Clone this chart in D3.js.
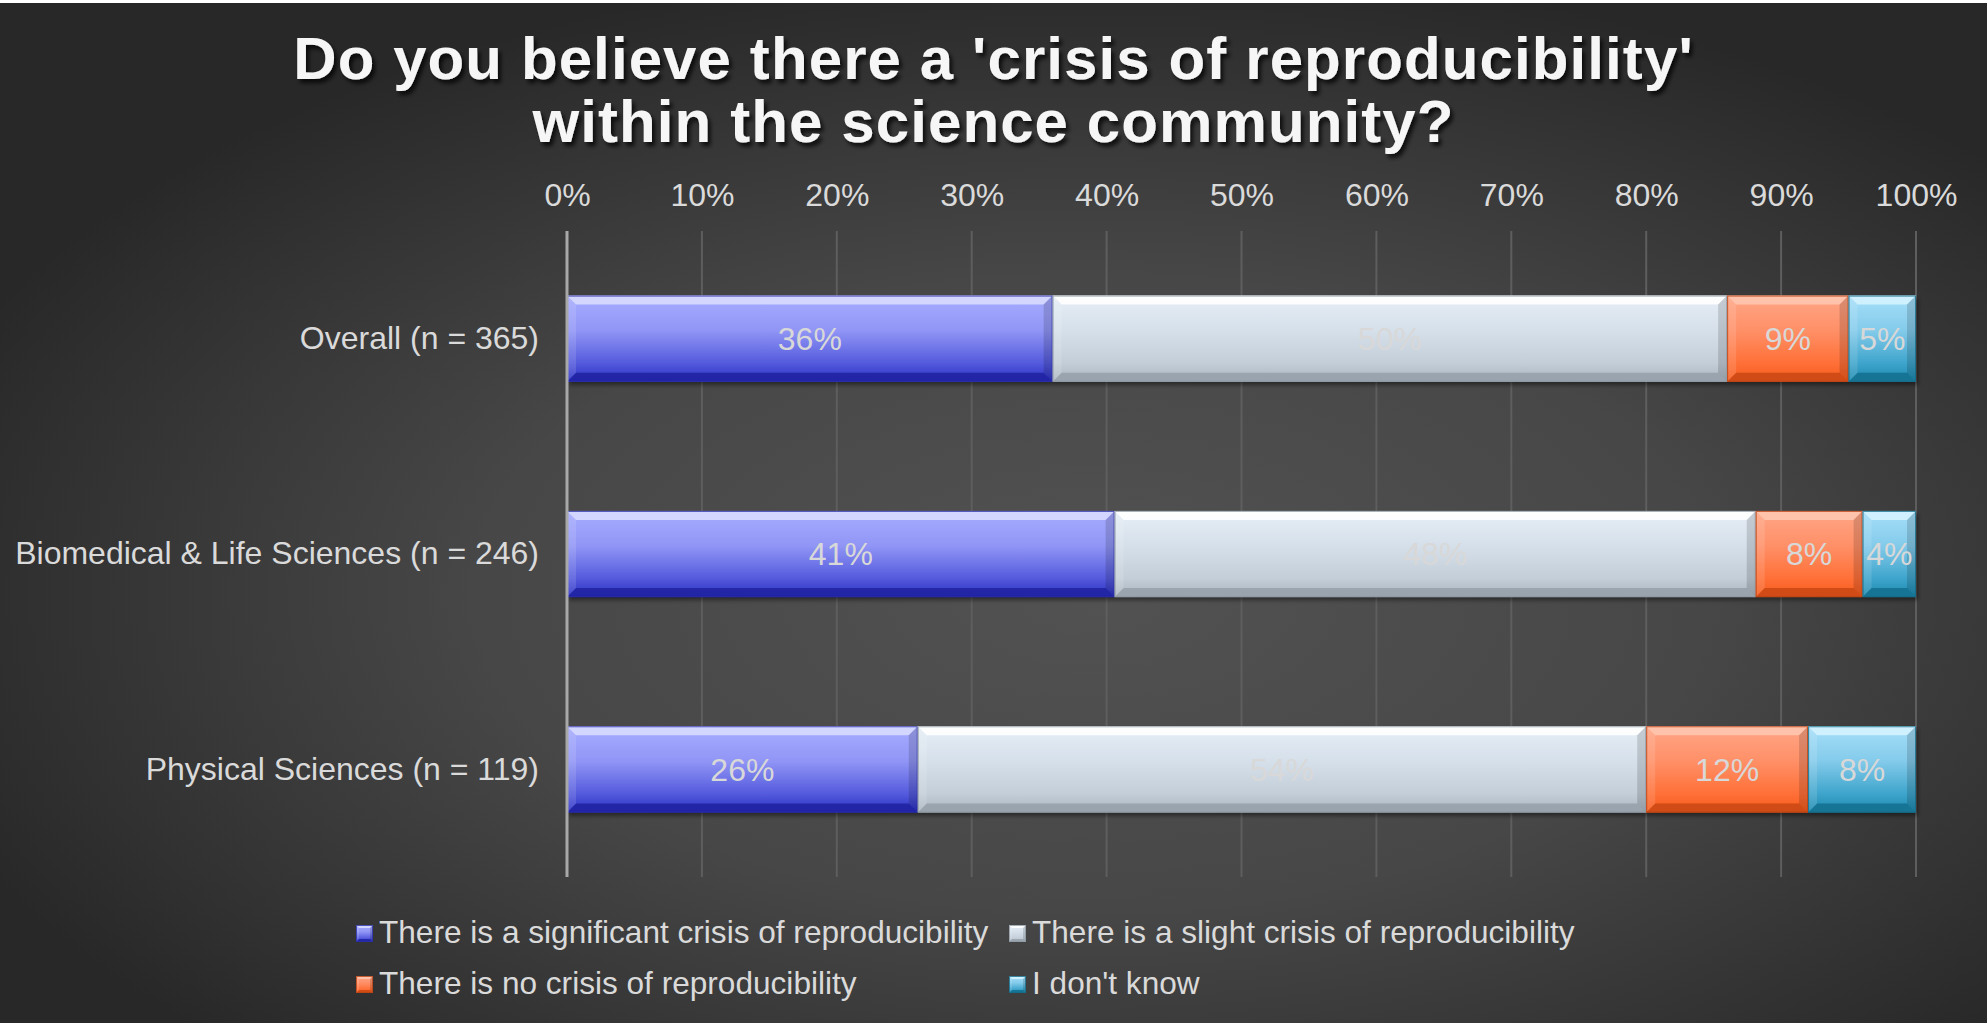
<!DOCTYPE html>
<html>
<head>
<meta charset="utf-8">
<script src="https://cdn.jsdelivr.net/npm/d3@7"></script>
<style>
  body { margin: 0; background: #2a2a2a; overflow: hidden; }
  svg { display: block; }
  text { font-family: "Liberation Sans", Arial, sans-serif; }
</style>
</head>
<body>
<script>
// Survey responses, percent of respondents per group
const categories = ["Overall (n = 365)", "Biomedical & Life Sciences (n = 246)", "Physical Sciences (n = 119)"];
const seriesNames = [
  "There is a significant crisis of reproducibility",
  "There is a slight crisis of reproducibility",
  "There is no crisis of reproducibility",
  "I don't know"
];
const significant = [36, 41, 26];
const slight = [50, 48, 54];
const noCrisis = [9, 8, 12];
const dontKnow = [5, 4, 8];
const tickValues = [0, 0.1, 0.2, 0.3, 0.4, 0.5, 0.6, 0.7, 0.8, 0.9, 1];
const titleLines = ["Do you believe there a 'crisis of reproducibility'", "within the science community?"];

const W = 1987, H = 1023;
const FONT = 32;
const keys = ["significant", "slight", "noCrisis", "dontKnow"];
const rows = categories.map((c, i) => ({
  category: c,
  significant: significant[i],
  slight: slight[i],
  noCrisis: noCrisis[i],
  dontKnow: dontKnow[i]
}));
const stacked = d3.stack().keys(keys).offset(d3.stackOffsetExpand)(rows);

// bevelled fill styles for each series
const palettes = {
  significant: { stops: ["#a7acff", "#9196f6", "#555bdd", "#2a2fc2"], hi: "#d8dbff", lo: "#1f22a0", edge: "#2b2fa8" },
  slight:      { stops: ["#e6eef6", "#d6e0ea", "#c4ced8", "#aab5c0"], hi: "#ffffff", lo: "#95a0aa", edge: "#8e99a3" },
  noCrisis:    { stops: ["#ffa686", "#ff9068", "#ff7038", "#f65a1c"], hi: "#ffc6b0", lo: "#c94812", edge: "#b84414" },
  dontKnow:    { stops: ["#a6dff9", "#84cbeb", "#3fa5cc", "#1b88ae"], hi: "#d4f3ff", lo: "#12708f", edge: "#146c88" }
};

const svg = d3.select("body").append("svg").attr("width", W).attr("height", H);
const defs = svg.append("defs");

const bg = defs.append("radialGradient").attr("id", "bg")
  .attr("cx", "0.55").attr("cy", "0.58").attr("r", "0.62");
bg.append("stop").attr("offset", 0).attr("stop-color", "#525252");
bg.append("stop").attr("offset", 0.5).attr("stop-color", "#474747");
bg.append("stop").attr("offset", 1).attr("stop-color", "#282828");

keys.forEach(k => {
  const g = defs.append("linearGradient").attr("id", "grad-" + k)
    .attr("x1", 0).attr("y1", 0).attr("x2", 0).attr("y2", 1);
  const offs = [0, 0.4, 0.78, 1];
  palettes[k].stops.forEach((c, i) => g.append("stop").attr("offset", offs[i]).attr("stop-color", c));
});

const shadow = defs.append("filter").attr("id", "titleShadow")
  .attr("x", "-10%").attr("y", "-30%").attr("width", "120%").attr("height", "160%");
shadow.append("feDropShadow").attr("dx", 3).attr("dy", 4).attr("stdDeviation", 2)
  .attr("flood-color", "#000").attr("flood-opacity", 0.75);

const barShadow = defs.append("filter").attr("id", "barShadow")
  .attr("x", "-5%").attr("y", "-20%").attr("width", "110%").attr("height", "150%");
barShadow.append("feDropShadow").attr("dx", 2).attr("dy", 3).attr("stdDeviation", 2)
  .attr("flood-color", "#000").attr("flood-opacity", 0.45);

svg.append("rect").attr("width", W).attr("height", H).attr("fill", "url(#bg)");
svg.append("rect").attr("width", W).attr("height", 3).attr("fill", "#ffffff");

// Title
svg.append("g").attr("filter", "url(#titleShadow)")
  .selectAll("text").data(titleLines).join("text")
  .attr("x", W / 2)
  .attr("y", (d, i) => 79 + i * 63)
  .attr("text-anchor", "middle")
  .attr("font-size", 60)
  .attr("font-weight", "bold")
  .attr("letter-spacing", 1.1)
  .attr("fill", "#f6f6f6")
  .text(d => d);

// Scales
const x = d3.scaleLinear().domain([0, 1]).range([567, 1916]);
const y = d3.scaleBand().domain(categories).range([231, 877]).paddingInner(0.6).paddingOuter(0.3);

// Gridlines
svg.append("g").selectAll("line").data(tickValues.slice(1)).join("line")
  .attr("x1", d => x(d)).attr("x2", d => x(d))
  .attr("y1", 231).attr("y2", 877)
  .attr("stroke", "#5e5e5e").attr("stroke-width", 2);

// Top axis with percent ticks
const xAxis = svg.append("g").attr("transform", "translate(0,206)")
  .call(d3.axisTop(x).tickValues(tickValues).tickFormat(d3.format(".0%")).tickSize(0).tickPadding(0));
xAxis.select(".domain").remove();
xAxis.selectAll("text")
  .attr("font-size", FONT).attr("fill", "#dadada")
  .attr("font-family", "'Liberation Sans', Arial, sans-serif");

// Category labels
const yAxis = svg.append("g").attr("transform", "translate(539,0)")
  .call(d3.axisLeft(y).tickSize(0).tickPadding(0));
yAxis.select(".domain").remove();
yAxis.selectAll("text")
  .attr("font-size", FONT).attr("fill", "#dadada")
  .attr("font-family", "'Liberation Sans', Arial, sans-serif");

// Bevelled block
function bevel(g, x0, x1, y0, y1, key, b) {
  const p = palettes[key];
  g.append("rect").attr("x", x0).attr("y", y0).attr("width", x1 - x0).attr("height", y1 - y0)
    .attr("fill", "url(#grad-" + key + ")");
  const poly = (pts, fill, op) => g.append("polygon")
    .attr("points", pts.map(q => q.join(",")).join(" "))
    .attr("fill", fill).attr("fill-opacity", op);
  poly([[x0, y0], [x1, y0], [x1 - b, y0 + b], [x0 + b, y0 + b]], p.hi, 0.9);
  poly([[x0, y1], [x1, y1], [x1 - b, y1 - b], [x0 + b, y1 - b]], p.lo, 0.85);
  poly([[x0, y0], [x0 + b, y0 + b], [x0 + b, y1 - b], [x0, y1]], "#ffffff", 0.12);
  poly([[x1, y0], [x1 - b, y0 + b], [x1 - b, y1 - b], [x1, y1]], "#000000", 0.14);
  g.append("rect").attr("x", x0 + 0.5).attr("y", y0 + 0.5)
    .attr("width", x1 - x0 - 1).attr("height", y1 - y0 - 1)
    .attr("fill", "none").attr("stroke", p.edge).attr("stroke-width", 1).attr("stroke-opacity", 0.8);
}

// Bars
const barsG = svg.append("g").attr("filter", "url(#barShadow)");
stacked.forEach((layer, si) => {
  layer.forEach((seg, ci) => {
    const g = barsG.append("g");
    bevel(g, x(seg[0]), x(seg[1]), y(categories[ci]), y(categories[ci]) + y.bandwidth(), keys[si], 9);
  });
});

// Data labels
const valueArrays = [significant, slight, noCrisis, dontKnow];
const labelsG = svg.append("g");
stacked.forEach((layer, si) => {
  layer.forEach((seg, ci) => {
    labelsG.append("text")
      .attr("x", (x(seg[0]) + x(seg[1])) / 2)
      .attr("y", y(categories[ci]) + y.bandwidth() / 2)
      .attr("dy", "0.35em")
      .attr("text-anchor", "middle")
      .attr("font-size", FONT)
      .attr("fill", "#d8d8d8")
      .text(valueArrays[si][ci] + "%");
  });
});

// Axis line at 0%
svg.append("line")
  .attr("x1", x(0)).attr("x2", x(0)).attr("y1", 231).attr("y2", 877)
  .attr("stroke", "#a8a8a8").attr("stroke-width", 3);

// Legend, two columns
const legendPos = [[356, 943], [1009, 943], [356, 994], [1009, 994]];
const legend = svg.append("g");
seriesNames.forEach((name, i) => {
  const [lx, ly] = legendPos[i];
  const g = legend.append("g");
  bevel(g, lx, lx + 17, ly - 18, ly - 1, keys[i], 3);
  g.append("text").attr("x", lx + 23).attr("y", ly)
    .attr("font-size", 31.6).attr("fill", "#dadada").text(name);
});
</script>
</body>
</html>
